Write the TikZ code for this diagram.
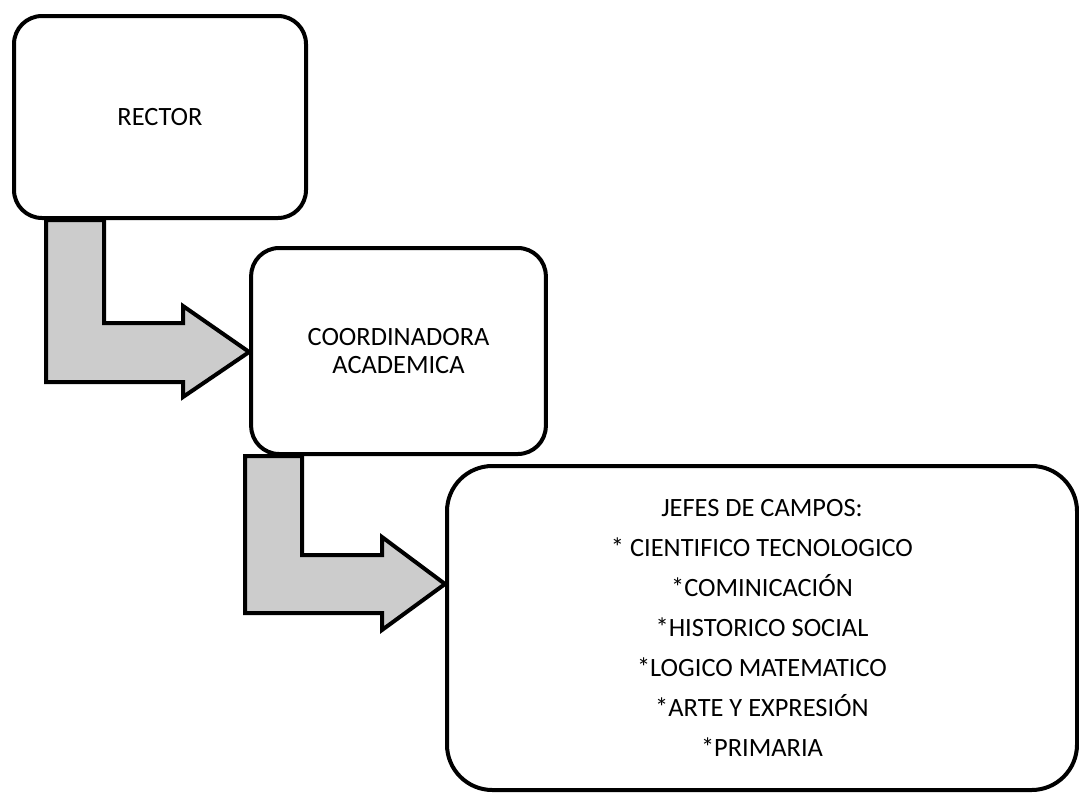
\documentclass[tikz,border=0pt]{standalone}
\usepackage{fontspec}
\setmainfont{Carlito}
\usetikzlibrary{calc}
\pgfdeclarelayer{bg}
\pgfsetlayers{bg,main}
\begin{document}
\begin{tikzpicture}[x=0.75pt,y=-0.75pt,
  box/.style={draw=black,line width=3pt,fill=white,rounded corners=21pt,align=center,font=\fontsize{19.8}{21.5}\selectfont},
  blockarrow/.style={draw=black,line width=3pt,fill=black!20,line join=miter}]
\useasboundingbox (0,0) rectangle (1079,793);
\clip (0,0) rectangle (1079,793);
% boxes
\node[box,minimum width=219pt,minimum height=151.5pt] (rector) at (160,117) {RECTOR};
\node[box,minimum width=221pt,minimum height=154.5pt] (coord) at (398.5,351) {COORDINADORA\\ACADEMICA};
\node[box,rounded corners=34pt,minimum width=472.5pt,minimum height=243pt] (jefes) at (762,628) {};
\node[align=center,font=\fontsize{19.8}{30}\selectfont] (jefestext) at (jefes.center)
  {JEFES DE CAMPOS:\\* CIENTIFICO TECNOLOGICO\\*COMINICACIÓN\\*HISTORICO SOCIAL\\*LOGICO MATEMATICO\\*ARTE Y EXPRESIÓN\\*PRIMARIA};
% connectors (block L arrows), drawn behind the boxes
\begin{pgfonlayer}{bg}
\coordinate (a1tip) at (coord.west |- 0,352);
\draw[blockarrow] (rector.south -| 46,0) -- (rector.south -| 104,0) -- (104,323) -- (183,323) -- (183,306)
  -- (a1tip) -- (183,397) -- (183,382) -- (46,382) -- cycle;
\coordinate (a2tip) at (jefes.west |- 0,584);
\draw[blockarrow] (coord.south -| 245,0) -- (coord.south -| 302,0) -- (302,555) -- (382,555) -- (382,537)
  -- (a2tip) -- (382,630) -- (382,613) -- (245,613) -- cycle;
\end{pgfonlayer}
\end{tikzpicture}
\end{document}
